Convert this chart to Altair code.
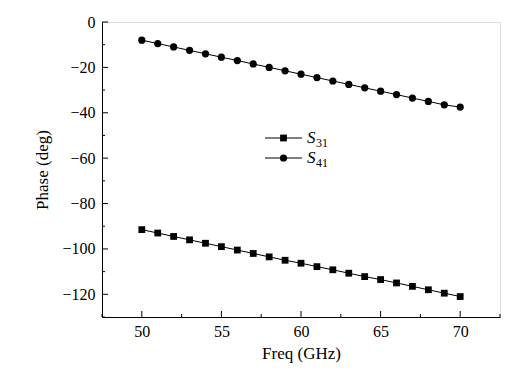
import altair as alt
import pandas as pd

freq = list(range(50, 71))
s31 = [-91.5, -93.0, -94.5, -96.0, -97.5, -99.0, -100.5, -102.0, -103.5, -105.0,
       -106.3, -107.8, -109.2, -110.7, -112.2, -113.5, -115.0, -116.5, -118.0, -119.5, -121.0]
s41 = [-8.0, -9.5, -11.0, -12.5, -14.0, -15.5, -17.0, -18.5, -20.0, -21.5,
       -23.0, -24.5, -26.0, -27.5, -29.0, -30.5, -32.0, -33.5, -35.0, -36.5, -37.5]
series_names = ["S31", "S41"]

x_major = [50, 55, 60, 65, 70]
x_minor = [47.5, 52.5, 57.5, 62.5, 67.5, 72.5]
y_major = [0, -20, -40, -60, -80, -100, -120]
y_minor = [-10, -30, -50, -70, -90, -110, -130]

df = pd.DataFrame({
    "freq": freq * 2,
    "phase": s31 + s41,
    "series": [series_names[0]] * len(freq) + [series_names[1]] * len(freq),
})

FONT = "Liberation Serif"
W, H = 398, 295

xscale = alt.Scale(domain=[47.5, 72.5], nice=False, zero=False)
yscale = alt.Scale(domain=[-130, 0], nice=False, zero=False)

xaxis = alt.Axis(values=x_major, ticks=False, grid=False, labelFont=FONT, labelFontSize=16,
                 labelColor="black", labelPadding=6, title="Freq (GHz)", titleFont=FONT,
                 titleFontSize=17, titleFontWeight="normal", titleColor="black", titlePadding=6,
                 domainColor="black", domainWidth=1, labelFlush=False)
yaxis = alt.Axis(values=y_major, ticks=False, grid=False, labelFont=FONT, labelFontSize=16,
                 labelColor="black", labelPadding=7, title="Phase (deg)", titleFont=FONT,
                 titleFontSize=17, titleFontWeight="normal", titleColor="black", titlePadding=10,
                 domainColor="black", domainWidth=1, labelFlush=False)

base = alt.Chart(df)
lines = base.mark_line(color="black", strokeWidth=1).encode(
    x=alt.X("freq:Q", scale=xscale, axis=xaxis),
    y=alt.Y("phase:Q", scale=yscale, axis=yaxis),
    detail="series:N",
)
points = base.mark_point(filled=True, opacity=1, color="black").encode(
    x="freq:Q",
    y="phase:Q",
    shape=alt.Shape("series:N", scale=alt.Scale(domain=series_names, range=["square", "circle"]), legend=None),
    size=alt.Size("series:N", scale=alt.Scale(domain=series_names, range=[46, 52]), legend=None),
)

def xticks(vals, length):
    return alt.Chart(pd.DataFrame({"v": vals})).mark_rule(color="black", strokeWidth=1).encode(
        x=alt.X("v:Q", scale=xscale), y=alt.value(H), y2=alt.value(H - length))

def yticks(vals, length):
    return alt.Chart(pd.DataFrame({"v": vals})).mark_rule(color="black", strokeWidth=1).encode(
        y=alt.Y("v:Q", scale=yscale), x=alt.value(0), x2=alt.value(length))

tick_layers = [xticks(x_major, 6), xticks(x_minor, 3), yticks(y_major, 6), yticks(y_minor, 3)]

one = pd.DataFrame({"a": [0]})

def legend_entry(row_y, shape, size, sub):
    ln = alt.Chart(one).mark_rule(color="black", strokeWidth=1).encode(
        x=alt.value(163), x2=alt.value(200), y=alt.value(row_y))
    pt = alt.Chart(one).mark_point(filled=True, opacity=1, color="black", shape=shape, size=size).encode(
        x=alt.value(181.5), y=alt.value(row_y))
    s = alt.Chart(one).mark_text(text="S", font=FONT, fontSize=17, fontStyle="italic", align="left",
                                 baseline="middle", color="black").encode(
        x=alt.value(205), y=alt.value(row_y))
    sb = alt.Chart(one).mark_text(text=sub, font=FONT, fontSize=12, align="left",
                                  baseline="middle", color="black").encode(
        x=alt.value(214), y=alt.value(row_y + 5))
    return [ln, pt, s, sb]

legend_layers = legend_entry(116, "square", 46, "31") + legend_entry(136, "circle", 52, "41")

chart = alt.layer(lines, points, *tick_layers, *legend_layers).properties(
    width=W, height=H,
    autosize=alt.AutoSizeParams(type="none"),
    padding={"left": 94, "top": 14, "right": 18, "bottom": 50},
).configure_view(stroke=None).configure(background="white")

chart.save("out.html", embed_options={"renderer": "svg", "actions": False})
